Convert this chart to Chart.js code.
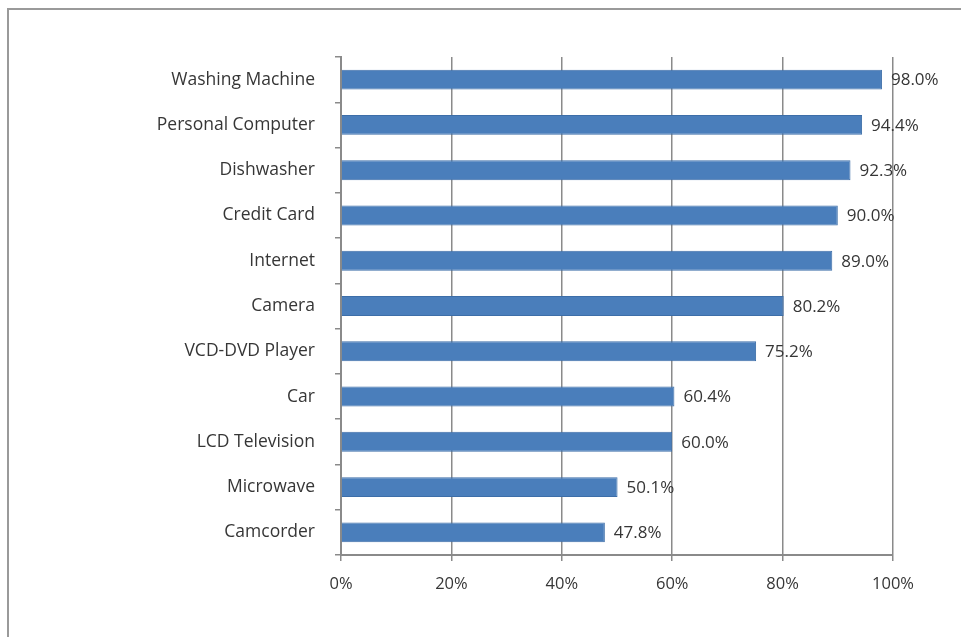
<!DOCTYPE html>
<html>
<head>
<meta charset="utf-8">
<title>Ownership by product</title>
<script src="https://cdn.jsdelivr.net/npm/chart.js@4/dist/chart.umd.min.js"></script>
<style>
    html, body { margin: 0; padding: 0; background: #fff; }
    #wrap { width: 961px; height: 637px; position: relative; }
</style>
</head>
<body>
<div id="wrap"><canvas id="chart" width="961" height="637"></canvas></div>
<script>
// Share of households owning each item (%)
const products = [
    'Washing Machine', 'Personal Computer', 'Dishwasher', 'Credit Card', 'Internet',
    'Camera', 'VCD-DVD Player', 'Car', 'LCD Television', 'Microwave', 'Camcorder'
];
const ownership = [98.0, 94.4, 92.3, 90.0, 89.0, 80.2, 75.2, 60.4, 60.0, 50.1, 47.8];
const xTicks = [0, 20, 40, 60, 80, 100];

const textColor = '#363636';
const lineColor = '#8a8a8a';

// Thin frame round the chart
const framePlugin = {
    id: 'frame',
    beforeDraw(chart) {
        const ctx = chart.ctx;
        ctx.save();
        ctx.fillStyle = '#fff';
        ctx.fillRect(0, 0, chart.width, chart.height);
        ctx.strokeStyle = '#9a9a9a';
        ctx.lineWidth = 2;
        ctx.beginPath();
        ctx.moveTo(8, chart.height + 2);
        ctx.lineTo(8, 9);
        ctx.lineTo(chart.width + 2, 9);
        ctx.stroke();
        ctx.restore();
    }
};

// Value labels at the end of each bar
const valueLabels = {
    id: 'valueLabels',
    afterDatasetsDraw(chart) {
        const ctx = chart.ctx;
        const meta = chart.getDatasetMeta(0);
        ctx.save();
        ctx.font = '17px "Open Sans"';
        ctx.fillStyle = textColor;
        ctx.textAlign = 'left';
        ctx.textBaseline = 'middle';
        meta.data.forEach((bar, i) => {
            ctx.fillText(ownership[i].toFixed(1) + '%', bar.x + 9, bar.y + 1);
        });
        ctx.restore();
    }
};

new Chart(document.getElementById('chart'), {
    type: 'bar',
    data: {
        labels: products,
        datasets: [{
            data: ownership,
            backgroundColor: '#4a7ebb',
            borderColor: '#3d6ea8',
            borderWidth: 1,
            categoryPercentage: 0.44,
            barPercentage: 1.0
        }]
    },
    options: {
        indexAxis: 'y',
        responsive: false,
        animation: false,
        layout: { padding: { top: 57, right: 68, bottom: 0, left: 0 } },
        plugins: {
            legend: { display: false },
            tooltip: { enabled: false }
        },
        scales: {
            x: {
                min: 0,
                max: 100,
                afterBuildTicks(scale) {
                    scale.ticks = xTicks.map(v => ({ value: v }));
                },
                afterFit(scale) { scale.height = 82; },
                grid: {
                    color: lineColor,
                    lineWidth: 1.5,
                    tickLength: 6,
                    drawTicks: true
                },
                border: { display: true, color: lineColor, width: 2 },
                ticks: {
                    color: textColor,
                    font: { family: 'Open Sans', size: 16.5 },
                    padding: 13,
                    callback: v => v + '%'
                }
            },
            y: {
                afterFit(scale) { scale.width = 341; },
                grid: {
                    drawOnChartArea: false,
                    drawTicks: true,
                    tickLength: 6,
                    color: lineColor,
                    lineWidth: 1.5
                },
                border: { display: true, color: lineColor, width: 2 },
                ticks: {
                    color: textColor,
                    font: { family: 'Open Sans', size: 17.5 },
                    padding: 20
                }
            }
        }
    },
    plugins: [framePlugin, valueLabels]
});
</script>
</body>
</html>
